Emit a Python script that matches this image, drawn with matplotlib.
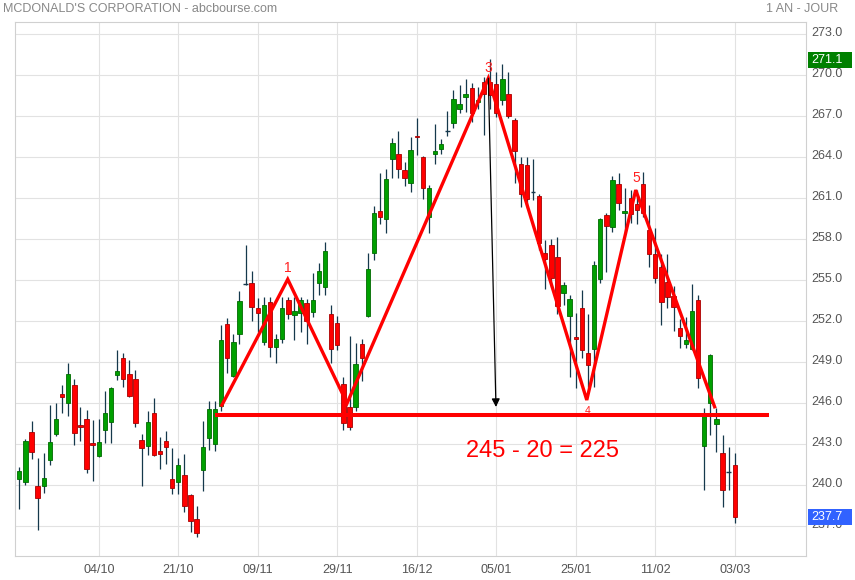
import matplotlib
matplotlib.use('Agg')
import matplotlib.pyplot as plt
import matplotlib.transforms as mtransforms
from matplotlib.patches import Rectangle

plt.rcParams['font.family'] = ['Liberation Sans', 'DejaVu Sans']

# ---------------- data ----------------
dates = (
    ['15/09', '16/09', '17/09', '20/09', '21/09', '22/09', '23/09', '24/09', '27/09', '28/09', '29/09', '30/09'] +
    ['01/10', '04/10', '05/10', '06/10', '07/10', '08/10', '11/10', '12/10', '13/10', '14/10', '15/10', '18/10',
     '19/10', '20/10', '21/10', '22/10', '25/10', '26/10', '27/10', '28/10', '29/10'] +
    ['01/11', '02/11', '03/11', '04/11', '05/11', '08/11', '09/11', '10/11', '11/11', '12/11', '15/11', '16/11',
     '17/11', '18/11', '19/11', '22/11', '23/11', '24/11', '26/11', '29/11', '30/11'] +
    ['01/12', '02/12', '03/12', '06/12', '07/12', '08/12', '09/12', '10/12', '13/12', '14/12', '15/12', '16/12',
     '17/12', '20/12', '21/12', '22/12', '23/12', '27/12', '28/12', '29/12', '30/12', '31/12'] +
    ['03/01', '04/01', '05/01', '06/01', '07/01', '10/01', '11/01', '12/01', '13/01', '14/01', '18/01', '19/01',
     '20/01', '21/01', '24/01', '25/01', '26/01', '27/01', '28/01', '31/01'] +
    ['01/02', '02/02', '03/02', '04/02', '07/02', '08/02', '09/02', '10/02', '11/02', '14/02', '15/02', '16/02',
     '17/02', '18/02', '22/02', '23/02', '24/02', '25/02', '28/02'] +
    ['01/03', '02/03', '03/03']
)

opens = [240.48, 240.26, 243.87, 239.95, 239.97, 241.83, 243.78, 246.68, 246.00, 247.34,
         244.41, 244.85, 243.09, 242.12, 244.02, 244.61, 248.05, 249.29, 248.14, 247.78,
         243.31, 242.90, 245.29, 242.51, 243.22, 240.43, 240.22, 240.73, 239.26, 237.51,
         241.10, 243.44, 243.00, 245.82, 251.77, 248.02, 251.10, 254.70, 254.77, 252.95,
         250.50, 253.40, 250.14, 250.68, 253.53, 252.43, 252.60, 253.34, 252.70, 254.83,
         254.53, 252.53, 251.87, 247.38, 245.75, 245.70, 250.32, 252.40, 256.97, 260.06,
         259.51, 263.90, 264.20, 263.06, 262.15, 265.57, 264.00, 259.65, 264.26, 264.60,
         265.95, 266.47, 267.55, 268.42, 269.03, 268.05, 269.47, 269.47, 269.35, 268.16,
         268.60, 266.70, 263.48, 263.40, 261.42, 261.16, 256.96, 257.57, 256.67, 254.04,
         252.40, 250.86, 253.00, 249.65, 249.99, 255.06, 259.76, 258.86, 262.02, 259.95,
         260.99, 260.56, 262.03, 258.68, 256.90, 255.95, 254.85, 253.85, 251.48, 250.36,
         250.00, 253.56, 242.90, 246.00, 244.46, 242.34, 240.96, 241.48]

highs = [241.36, 243.40, 244.70, 242.00, 242.36, 245.87, 246.02, 247.34, 248.95, 247.78,
         245.73, 245.51, 244.80, 244.85, 246.90, 247.19, 249.90, 249.68, 249.17, 248.44,
         243.75, 245.43, 246.39, 243.53, 244.00, 242.73, 242.00, 242.29, 239.40, 238.48,
         244.73, 246.14, 246.14, 251.70, 252.26, 251.10, 254.20, 257.60, 255.68, 253.68,
         253.80, 253.80, 251.04, 253.80, 253.80, 253.80, 253.80, 253.60, 255.50, 256.25,
         257.80, 253.20, 252.38, 247.90, 250.92, 250.44, 250.70, 256.97, 260.45, 262.88,
         263.13, 265.40, 265.90, 263.65, 265.50, 266.89, 264.10, 261.96, 266.43, 265.30,
         267.38, 268.91, 269.28, 269.72, 269.40, 269.16, 269.90, 271.18, 270.26, 270.82,
         270.21, 266.90, 263.99, 264.00, 263.84, 261.28, 257.94, 257.99, 258.13, 254.90,
         253.90, 252.57, 254.28, 252.50, 256.40, 259.57, 259.92, 262.64, 262.85, 261.75,
         261.62, 261.58, 262.95, 260.50, 258.80, 256.90, 256.90, 254.60, 252.20, 252.30,
         254.73, 253.92, 245.63, 249.60, 245.63, 243.68, 242.80, 242.34]

lows = [238.29, 240.05, 241.95, 236.75, 239.46, 241.51, 243.63, 245.31, 245.07, 242.97,
        243.22, 240.92, 240.34, 242.05, 243.12, 243.12, 247.73, 247.22, 246.48, 244.29,
        239.97, 242.19, 242.14, 241.22, 241.58, 239.39, 239.39, 238.07, 236.58, 236.24,
        239.61, 242.61, 242.53, 245.45, 248.24, 247.90, 250.31, 254.68, 252.04, 251.24,
        250.27, 249.35, 248.97, 250.40, 252.20, 250.63, 251.20, 250.34, 252.30, 253.90,
        253.95, 248.97, 249.90, 244.04, 244.04, 245.40, 247.65, 252.30, 256.50, 259.13,
        258.42, 262.50, 262.50, 261.86, 261.47, 264.16, 260.94, 258.47, 263.47, 264.20,
        265.55, 266.10, 267.20, 267.30, 266.60, 267.50, 265.62, 267.50, 266.96, 267.82,
        266.90, 262.08, 260.38, 260.30, 260.87, 257.20, 254.38, 254.50, 252.50, 253.20,
        247.89, 247.09, 249.30, 247.20, 247.20, 254.80, 255.60, 258.55, 260.14, 258.56,
        259.20, 259.14, 259.60, 256.00, 254.80, 251.73, 253.00, 251.29, 250.07, 250.07,
        249.90, 247.14, 239.65, 243.68, 242.46, 238.40, 239.65, 237.26]

closes = [241.07, 243.24, 242.46, 239.09, 240.53, 243.17, 244.85, 246.43, 248.14, 243.80,
          244.29, 241.17, 242.92, 243.17, 245.29, 247.12, 248.36, 247.75, 246.56, 244.53,
          242.70, 244.61, 242.24, 242.26, 242.78, 239.78, 241.46, 238.48, 237.36, 236.48,
          242.78, 245.56, 245.56, 250.63, 249.29, 250.46, 253.48, 254.70, 253.07, 252.63,
          253.17, 250.14, 250.68, 252.95, 252.50, 252.75, 253.53, 252.02, 253.53, 255.66,
          257.13, 250.00, 250.30, 244.58, 244.26, 248.87, 249.34, 255.80, 259.90, 259.60,
          262.38, 265.01, 263.11, 262.50, 264.52, 265.50, 261.72, 261.72, 264.45, 264.94,
          265.96, 268.23, 267.89, 268.60, 267.20, 268.15, 268.60, 268.55, 267.21, 269.70,
          267.04, 264.45, 261.30, 260.91, 261.42, 257.70, 256.52, 255.18, 253.11, 254.62,
          253.62, 250.67, 249.90, 248.77, 256.09, 259.45, 259.00, 262.33, 260.62, 260.10,
          259.87, 260.12, 259.90, 256.90, 255.20, 253.39, 253.80, 253.07, 250.95, 250.60,
          252.75, 247.82, 245.14, 249.53, 244.83, 239.65, 240.97, 237.70]

tick_labels = ['04/10', '21/10', '09/11', '29/11', '16/12', '05/01', '25/01', '11/02', '03/03']
y_ticks = [237, 240, 243, 246, 249, 252, 255, 258, 261, 264, 267, 270, 273]

# chart pattern annotation (candle index, price)
pattern_x = [33.0, 43.9, 53.6, 76.7, 92.8, 100.8, 113.8]
pattern_y = [245.75, 255.07, 246.0, 269.77, 246.24, 261.6, 245.63]
pattern_names = ['1', '3', '4', '5']
pattern_name_x = [43.94, 76.7, 93.0, 100.85]
pattern_name_y = [255.9, 270.53, 245.45, 262.48]
pattern_name_size = [10, 10, 7.5, 10]
neckline = 245.14
neckline_x = [32.0, 122.6]
arrow_x = [76.7, 77.95]
arrow_y = [269.77, 245.73]
target_text = '245 - 20 = 225'
target_pos = (85.56, 242.49)
max_high = 271.1
last_close = 237.7

# ---------------- figure ----------------
W, H = 855, 580
fig = plt.figure(figsize=(W / 100, H / 100), dpi=100)
fig.patch.set_facecolor('white')
ax = fig.add_axes([14.7 / W, 24 / H, (806 - 14.7) / W, (556 - 22) / H])

n = len(opens)
xs = list(range(n))
ax.set_xlim(-0.75, 128.65)
ax.set_ylim(234.83, 273.89)

GREEN, GREEN_E = '#00a000', '#006a00'
RED, RED_E = '#ff0000', '#a80000'
WICK = '#15384c'

ax.vlines(xs, lows, highs, color=WICK, lw=0.9, zorder=2)
body_w = 0.72
for i in range(n):
    o, c = opens[i], closes[i]
    if abs(c - o) < 0.02:
        ax.hlines(o, i - body_w / 2, i + body_w / 2, color=WICK, lw=1.0, zorder=3)
        continue
    up = c > o
    ax.bar(i, abs(c - o), bottom=min(o, c), width=body_w,
           color=GREEN if up else RED, edgecolor=GREEN_E if up else RED_E,
           lw=0.6, zorder=3)

# pattern lines
ax.plot(pattern_x, pattern_y, color='#ff0000', lw=2.4, zorder=5,
        solid_joinstyle='miter', solid_capstyle='butt')
ax.hlines(neckline, neckline_x[0], neckline_x[1], color='#ff0000', lw=2.9, zorder=5)
for name, px, py, fs in zip(pattern_names, pattern_name_x, pattern_name_y, pattern_name_size):
    ax.text(px, py, name, color='#ff2020', fontsize=fs, ha='center', va='center', zorder=6)

ax.annotate('', xy=(arrow_x[1], arrow_y[1]), xytext=(arrow_x[0], arrow_y[0]),
            arrowprops=dict(arrowstyle='-|>', color='black', lw=0.9,
                            mutation_scale=12, shrinkA=0, shrinkB=0), zorder=6)
ax.text(target_pos[0], target_pos[1], target_text, color='#ff0000', fontsize=17,
        ha='center', va='center', zorder=6)

# axes styling
tick_pos = [dates.index(t) for t in tick_labels]
ax.set_xticks(tick_pos)
ax.set_xticklabels(tick_labels)
ax.set_yticks(y_ticks)
ax.set_yticklabels(['%.1f' % v for v in y_ticks])
ax.yaxis.tick_right()
ax.tick_params(axis='both', length=0, labelcolor='#555555', labelsize=9)
ax.tick_params(axis='y', pad=4)
ax.tick_params(axis='x', pad=6)
up_shift = mtransforms.ScaledTranslation(0, 3 / 100, fig.dpi_scale_trans)
for lab in ax.get_yticklabels():
    lab.set_transform(lab.get_transform() + up_shift)
ax.grid(True, color='#e2e2e2', lw=0.8)
ax.set_axisbelow(True)
for sp in ax.spines.values():
    sp.set_color('#d0d0d0')
    sp.set_linewidth(0.8)

# value boxes on the right
blend = mtransforms.blended_transform_factory(fig.transFigure, ax.transData)
for val, col in [(max_high, '#008000'), (last_close, '#3162ff')]:
    rect = Rectangle((808 / W, val - 0.585), 44 / W, 1.17, transform=blend,
                     facecolor=col, edgecolor='none', clip_on=False, zorder=10)
    fig.add_artist(rect)
    fig.text(811 / W, val, '%.1f' % val, transform=blend, color='white',
             fontsize=9, ha='left', va='center', zorder=11)

fig.text(3 / W, 1 - 9 / H, "MCDONALD'S CORPORATION - abcbourse.com", color='#888888',
         fontsize=9, ha='left', va='center')
fig.text(838 / W, 1 - 9 / H, '1 AN - JOUR', color='#888888', fontsize=9,
         ha='right', va='center')

fig.savefig('out.png', dpi=100, facecolor='white')
